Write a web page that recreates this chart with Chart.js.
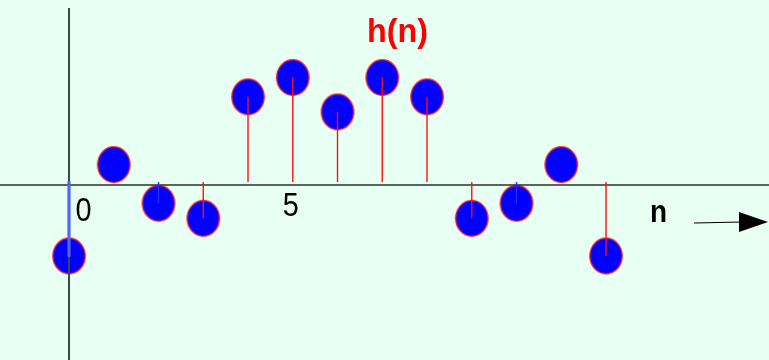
<!DOCTYPE html>
<html>
<head>
<meta charset="utf-8">
<script src="https://cdn.jsdelivr.net/npm/chart.js@4/dist/chart.umd.min.js"></script>
<style>
  html, body { margin: 0; padding: 0; background: #e8fff4; }
  #wrap { width: 769px; height: 360px; }
</style>
</head>
<body>
<div id="wrap"><canvas id="myChart" width="769" height="360"></canvas></div>
<script>
// sample index n and filter response h(n)
const nValues = [0, 1, 2, 3, 4, 5, 6, 7, 8, 9, 10, 11, 12];
const hValues = [-0.66, 0.19, -0.17, -0.31, 0.82, 1.0, 0.68, 1.0, 0.82, -0.31, -0.17, 0.19, -0.66];
// stem colours (blue ones hide behind the marker)
const stemColors = ['#5565f0', '#0000ff', '#2a2aff', '#ff1010', '#ff1010', '#ff1010', '#ff1010', '#ff1010', '#ff1010', '#ff1010', '#2a2aff', '#0000ff', '#ff1010'];
// tick labels on the n axis
const tickValues = [0, 5];
const tickLabels = ['0', '5'];

// ellipse marker (the picture is a bit squeezed sideways)
function makeMarker() {
    const c = document.createElement('canvas');
    c.width = 36; c.height = 39;
    const g = c.getContext('2d');
    g.beginPath();
    g.ellipse(18, 19.5, 16.2, 17.8, 0, 0, Math.PI * 2);
    g.fillStyle = '#0000ff';
    g.fill();
    g.lineWidth = 1.3;
    g.strokeStyle = '#ff2020';
    g.stroke();
    return c;
}

function squeezedText(ctx, text, x, y, font, color, sx) {
    ctx.save();
    ctx.translate(x, y);
    ctx.scale(sx, 1);
    ctx.font = font;
    ctx.fillStyle = color;
    ctx.textAlign = 'left';
    ctx.textBaseline = 'alphabetic';
    ctx.fillText(text, 0, 0);
    ctx.restore();
}

const axesPlugin = {
    id: 'axes',
    // axis lines go over the markers but under the stems
    afterDatasetDraw(chart, args) {
        if (args.index !== 1) return;
        const ctx = chart.ctx;
        const xs = chart.scales.x, ys = chart.scales.y;
        const x0 = xs.getPixelForValue(0);
        const y0 = ys.getPixelForValue(0);
        ctx.save();
        ctx.strokeStyle = '#2b2f2e';
        ctx.lineWidth = 1.5;
        ctx.beginPath();
        ctx.moveTo(0, y0);
        ctx.lineTo(chart.width, y0);
        ctx.stroke();
        ctx.strokeStyle = '#3c4a46';
        ctx.lineWidth = 2;
        ctx.beginPath();
        ctx.moveTo(x0, ys.getPixelForValue(1.646));
        ctx.lineTo(x0, chart.height);
        ctx.stroke();
        ctx.restore();
    },
    afterDatasetsDraw(chart) {
        const ctx = chart.ctx;
        const xs = chart.scales.x, ys = chart.scales.y;
        const y0 = ys.getPixelForValue(0);
        ctx.save();

        // tick labels
        const tickFont = '34px "Liberation Sans", Arial, sans-serif';
        const offs = [14.5, -2];
        const lift = [-36, -31];
        tickValues.forEach((v, i) => {
            const px = xs.getPixelForValue(v) + offs[i];
            ctx.save();
            ctx.font = tickFont;
            const w = ctx.measureText(tickLabels[i]).width * 0.85;
            ctx.restore();
            squeezedText(ctx, tickLabels[i], px - w / 2, y0 - lift[i], tickFont, '#000', 0.85);
        });

        // titles
        squeezedText(ctx, 'h(n)', 367, 42, 'bold 34px "Liberation Sans", Arial, sans-serif', '#ff0000', 0.95);
        squeezedText(ctx, 'n', 650, y0 + 37, 'bold 31px "Liberation Sans", Arial, sans-serif', '#000', 0.9);

        // arrow
        const ay = y0 + 37.5;
        ctx.strokeStyle = '#000';
        ctx.lineWidth = 1.2;
        ctx.beginPath();
        ctx.moveTo(694, ay + 0.5);
        ctx.lineTo(741, ay - 0.5);
        ctx.stroke();
        ctx.fillStyle = '#000';
        ctx.beginPath();
        ctx.moveTo(739, ay - 10.5);
        ctx.lineTo(768, ay - 0.5);
        ctx.lineTo(739, ay + 9.5);
        ctx.closePath();
        ctx.fill();
        ctx.restore();
    }
};

const bgPlugin = {
    id: 'bg',
    beforeDraw(chart) {
        const ctx = chart.ctx;
        ctx.save();
        ctx.fillStyle = '#e8fff4';
        ctx.fillRect(0, 0, chart.width, chart.height);
        ctx.restore();
    }
};

const marker = makeMarker();
const points = nValues.map((n, i) => ({ x: n, y: hValues[i] }));

var ctx = document.getElementById('myChart').getContext('2d');
var chart = new Chart(ctx, {
    type: 'scatter',
    data: {
        datasets: [
            {
                type: 'bar',
                label: 'stems',
                data: points,
                base: 0.028,
                barThickness: 1.4,
                backgroundColor: stemColors,
                borderWidth: 0,
                inflateAmount: (c) => (c.dataIndex === 0 ? 0.9 : 0),
                order: 0
            },
            {
                type: 'scatter',
                label: 'h(n)',
                data: points,
                pointStyle: marker,
                pointRadius: 18,
                order: 1
            }
        ]
    },
    options: {
        responsive: false,
        animation: false,
        layout: { padding: 0, autoPadding: false },
        plugins: { legend: { display: false }, tooltip: { enabled: false } },
        scales: {
            x: { type: 'linear', display: false, offset: false, min: -1.542, max: 15.642 },
            y: { type: 'linear', display: false, min: -1.628, max: 1.721 }
        }
    },
    plugins: [bgPlugin, axesPlugin]
});
</script>
</body>
</html>
